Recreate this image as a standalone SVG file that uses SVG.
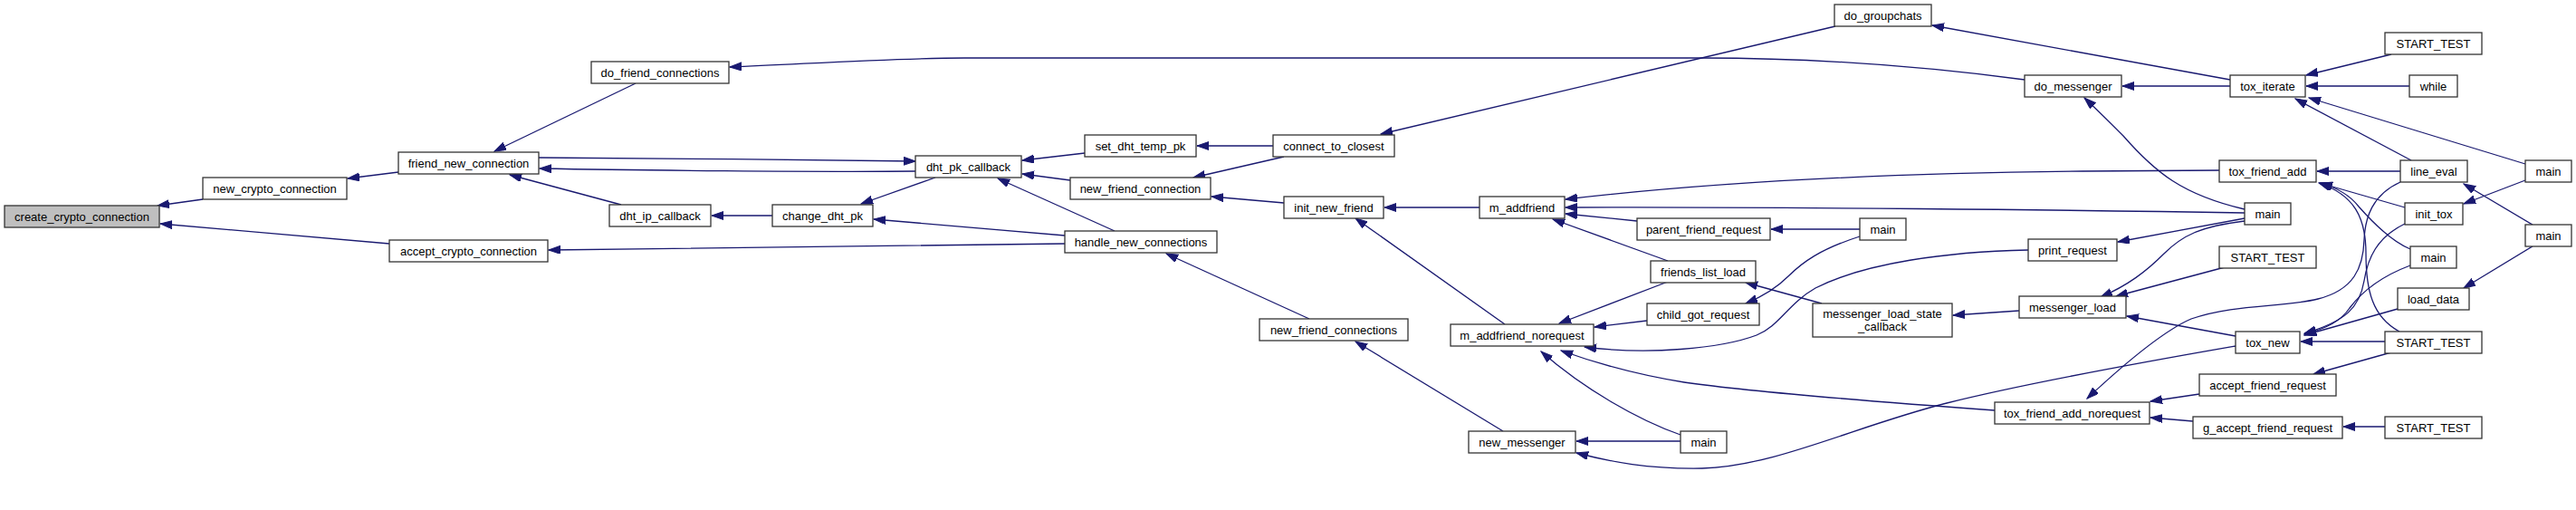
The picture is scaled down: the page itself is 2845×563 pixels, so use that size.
<svg xmlns="http://www.w3.org/2000/svg" width="2845" height="563" viewBox="0 0 2845 563">
<style>
.n rect{fill:#fff;stroke:#333;stroke-width:1.3}
.n.f rect{fill:#bfbfbf}
.n text{font-family:"Liberation Sans",Arial,sans-serif;font-size:13px;fill:#000;text-anchor:middle}
.e path{fill:none;stroke:#191970;stroke-width:1.3;marker-end:url(#a)}
</style>
<defs>
<marker id="a" markerUnits="userSpaceOnUse" markerWidth="14" markerHeight="10" refX="13" refY="4.5" orient="auto">
<path d="M0,0 L13,4.5 L0,9 z" fill="#191970" stroke="#191970" stroke-width="1"/>
</marker>
</defs>
<rect width="2845" height="563" fill="#fff"/>
<g id="edges" class="e">
<path d="M224,220 L174,227"/>
<path d="M430,269 L177,247"/>
<path d="M440,190 L384,197"/>
<path d="M702,92 L546,167"/>
<path d="M1011,189 C900,190 700,188 596,186"/>
<path d="M595,174 C700,175 900,176 1011,178"/>
<path d="M686,226 L563,193"/>
<path d="M853,238 L786,238"/>
<path d="M1033,196 L951,225"/>
<path d="M1176,260 L965,242"/>
<path d="M1176,269 C1000,270 800,274 606,276"/>
<path d="M1231,255 L1102,197"/>
<path d="M1198,169 L1129,177"/>
<path d="M1182,199 L1129,192"/>
<path d="M1406,161 L1322,161"/>
<path d="M1418,173 L1318,196"/>
<path d="M1418,224 L1338,217"/>
<path d="M1446,352 L1288,280"/>
<path d="M1660,476 L1497,377"/>
<path d="M1634,229 L1529,229"/>
<path d="M1662,358 L1497,241"/>
<path d="M2027,29 L1525,148"/>
<path d="M2236,88 C2100,70 1990,64 1880,64 L1065,64 C990,64 900,70 806,74"/>
<path d="M2463,88 L2134,28"/>
<path d="M2463,95 L2344,95"/>
<path d="M2641,60 L2547,83"/>
<path d="M2661,95 L2547,95"/>
<path d="M2663,177 L2535,109"/>
<path d="M2789,181 L2550,108"/>
<path d="M2479,231 C2410,215 2380,190 2345,150 C2330,135 2315,120 2302,108"/>
<path d="M2651,189 L2559,189"/>
<path d="M2656,229 L2562,202"/>
<path d="M2662,275 C2640,266 2620,245 2605,228 C2595,215 2580,207 2563,202"/>
<path d="M2650,366 C2620,350 2613,320 2613,280 C2613,240 2600,215 2561,202"/>
<path d="M2451,188 L2300,189 C2100,191 1900,200 1729,220"/>
<path d="M2479,235 C2300,232 1950,228 1729,229"/>
<path d="M1808,244 L1729,236"/>
<path d="M1842,288 L1715,242"/>
<path d="M1842,311 L1722,357"/>
<path d="M1819,354 L1761,361"/>
<path d="M2240,276 C2150,278 2060,290 2005,318 C1975,335 1965,360 1940,370 C1900,385 1820,392 1750,383"/>
<path d="M2203,453 C2050,442 1930,432 1860,422 C1810,414 1760,400 1724,387"/>
<path d="M1856,480 C1810,464 1750,430 1702,388"/>
<path d="M1856,487 L1741,487"/>
<path d="M2469,382 C2400,394 2250,420 2150,445 C2050,470 1960,515 1880,517 C1820,518 1780,510 1741,500"/>
<path d="M2651,201 C2620,215 2612,240 2611,265 C2610,295 2600,320 2560,330 C2520,340 2470,335 2420,352 C2390,365 2350,398 2305,440"/>
<path d="M2479,241 L2339,267"/>
<path d="M2479,244 C2430,250 2410,260 2390,280 C2370,300 2350,315 2320,328"/>
<path d="M2457,295 L2337,327"/>
<path d="M2469,371 L2349,349"/>
<path d="M2230,343 L2157,348"/>
<path d="M2012,335 L1928,312"/>
<path d="M2054,261 C2010,275 1990,290 1975,305 C1960,320 1945,328 1928,335"/>
<path d="M2054,253 L1956,253"/>
<path d="M2656,247 C2625,262 2615,285 2611,310 C2606,340 2590,355 2545,368"/>
<path d="M2662,293 C2630,305 2610,320 2595,340 C2585,355 2570,362 2545,369"/>
<path d="M2648,341 L2545,370"/>
<path d="M2634,377 L2541,377"/>
<path d="M2641,389 L2555,413"/>
<path d="M2429,435 L2375,443"/>
<path d="M2422,465 L2375,461"/>
<path d="M2634,471 L2588,471"/>
<path d="M2789,199 L2721,225"/>
<path d="M2797,248 L2721,203"/>
<path d="M2797,272 L2721,318"/>
</g>
<g id="n0" class="n f"><rect x="5" y="227" width="171" height="24"/><text x="90.5" y="243.5">create_crypto_connection</text></g>
<g id="n1" class="n"><rect x="224" y="196" width="159" height="24"/><text x="303.5" y="212.5">new_crypto_connection</text></g>
<g id="n2" class="n"><rect x="440" y="168" width="155" height="24"/><text x="517.5" y="184.5">friend_new_connection</text></g>
<g id="n3" class="n"><rect x="430" y="265" width="175" height="24"/><text x="517.5" y="281.5">accept_crypto_connection</text></g>
<g id="n4" class="n"><rect x="653" y="68" width="152" height="24"/><text x="729" y="84.5">do_friend_connections</text></g>
<g id="n5" class="n"><rect x="673" y="226" width="112" height="24"/><text x="729" y="242.5">dht_ip_callback</text></g>
<g id="n6" class="n"><rect x="853" y="226" width="111" height="24"/><text x="908.5" y="242.5">change_dht_pk</text></g>
<g id="n7" class="n"><rect x="1011" y="172" width="117" height="24"/><text x="1069.5" y="188.5">dht_pk_callback</text></g>
<g id="n8" class="n"><rect x="1198" y="149" width="123" height="24"/><text x="1259.5" y="165.5">set_dht_temp_pk</text></g>
<g id="n9" class="n"><rect x="1182" y="196" width="155" height="24"/><text x="1259.5" y="212.5">new_friend_connection</text></g>
<g id="n10" class="n"><rect x="1176" y="255" width="168" height="24"/><text x="1260" y="271.5">handle_new_connections</text></g>
<g id="n11" class="n"><rect x="1391" y="352" width="164" height="24"/><text x="1473" y="368.5">new_friend_connections</text></g>
<g id="n12" class="n"><rect x="1406" y="149" width="134" height="24"/><text x="1473" y="165.5">connect_to_closest</text></g>
<g id="n13" class="n"><rect x="1418" y="217" width="110" height="24"/><text x="1473" y="233.5">init_new_friend</text></g>
<g id="n14" class="n"><rect x="1634" y="217" width="94" height="24"/><text x="1681" y="233.5">m_addfriend</text></g>
<g id="n15" class="n"><rect x="1808" y="241" width="147" height="24"/><text x="1881.5" y="257.5">parent_friend_request</text></g>
<g id="n16" class="n"><rect x="1823" y="288" width="116" height="24"/><text x="1881" y="304.5">friends_list_load</text></g>
<g id="n17" class="n"><rect x="1819" y="335" width="124" height="24"/><text x="1881" y="351.5">child_got_request</text></g>
<g id="n18" class="n"><rect x="1602" y="358" width="158" height="24"/><text x="1681" y="374.5">m_addfriend_norequest</text></g>
<g id="n19" class="n"><rect x="1622" y="476" width="118" height="24"/><text x="1681" y="492.5">new_messenger</text></g>
<g id="n20" class="n"><rect x="1856" y="476" width="51" height="24"/><text x="1881.5" y="492.5">main</text></g>
<g id="n21" class="n"><rect x="2026" y="5" width="107" height="24"/><text x="2079.5" y="21.5">do_groupchats</text></g>
<g id="n22" class="n"><rect x="2236" y="83" width="107" height="24"/><text x="2289.5" y="99.5">do_messenger</text></g>
<g id="n23" class="n"><rect x="2054" y="241" width="51" height="24"/><text x="2079.5" y="257.5">main</text></g>
<g id="n24" class="n"><rect x="2240" y="264" width="98" height="24"/><text x="2289" y="280.5">print_request</text></g>
<g id="n25" class="n"><rect x="2002" y="335" width="154" height="37"/><text x="2079" y="351">messenger_load_state</text><text x="2079" y="365">_callback</text></g>
<g id="n26" class="n"><rect x="2230" y="327" width="118" height="24"/><text x="2289" y="343.5">messenger_load</text></g>
<g id="n27" class="n"><rect x="2203" y="444" width="171" height="24"/><text x="2288.5" y="460.5">tox_friend_add_norequest</text></g>
<g id="n28" class="n"><rect x="2634" y="36" width="107" height="24"/><text x="2687.5" y="52.5">START_TEST</text></g>
<g id="n29" class="n"><rect x="2463" y="83" width="83" height="24"/><text x="2504.5" y="99.5">tox_iterate</text></g>
<g id="n30" class="n"><rect x="2661" y="83" width="53" height="24"/><text x="2687.5" y="99.5">while</text></g>
<g id="n31" class="n"><rect x="2451" y="177" width="107" height="24"/><text x="2504.5" y="193.5">tox_friend_add</text></g>
<g id="n32" class="n"><rect x="2651" y="177" width="74" height="24"/><text x="2688" y="193.5">line_eval</text></g>
<g id="n33" class="n"><rect x="2789" y="177" width="51" height="24"/><text x="2814.5" y="193.5">main</text></g>
<g id="n34" class="n"><rect x="2479" y="224" width="51" height="24"/><text x="2504.5" y="240.5">main</text></g>
<g id="n35" class="n"><rect x="2656" y="224" width="64" height="24"/><text x="2688" y="240.5">init_tox</text></g>
<g id="n36" class="n"><rect x="2789" y="248" width="51" height="24"/><text x="2814.5" y="264.5">main</text></g>
<g id="n37" class="n"><rect x="2451" y="272" width="107" height="24"/><text x="2504.5" y="288.5">START_TEST</text></g>
<g id="n38" class="n"><rect x="2662" y="272" width="51" height="24"/><text x="2687.5" y="288.5">main</text></g>
<g id="n39" class="n"><rect x="2648" y="318" width="79" height="24"/><text x="2687.5" y="334.5">load_data</text></g>
<g id="n40" class="n"><rect x="2469" y="366" width="71" height="24"/><text x="2504.5" y="382.5">tox_new</text></g>
<g id="n41" class="n"><rect x="2634" y="366" width="107" height="24"/><text x="2687.5" y="382.5">START_TEST</text></g>
<g id="n42" class="n"><rect x="2429" y="413" width="151" height="24"/><text x="2504.5" y="429.5">accept_friend_request</text></g>
<g id="n43" class="n"><rect x="2422" y="460" width="165" height="24"/><text x="2504.5" y="476.5">g_accept_friend_request</text></g>
<g id="n44" class="n"><rect x="2634" y="460" width="107" height="24"/><text x="2687.5" y="476.5">START_TEST</text></g>
</svg>
